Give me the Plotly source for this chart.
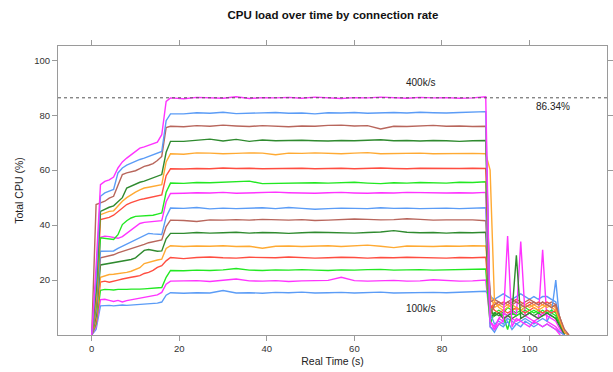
import plotly.graph_objects as go

# ---- data ----
rates = ["100k", "120k", "140k", "160k", "180k", "200k", "220k", "240k",
         "260k", "280k", "300k", "320k", "340k", "360k", "380k", "400k"]

ramp_t = list(range(0, 19))
plat_t = list(range(21, 91, 3))
tail_t = list(range(91, 110))
time_s = ramp_t + plat_t + tail_t

ramp = [
    [0, 2, 10.6, 10.7, 10.8, 10.6, 10.8, 10.9, 10.8, 10.9, 11.0, 11.1, 11.2, 11.3, 11.4, 11.6, 12.0, 14.5, 15.4],
    [0, 3, 12.9, 13.0, 12.6, 12.2, 12.6, 12.0, 12.5, 12.8, 13.2, 13.5, 13.8, 14.0, 14.2, 14.6, 15.5, 18.5, 19.6],
    [0, 4, 16.3, 16.6, 16.5, 16.4, 16.6, 16.5, 16.6, 16.7, 16.6, 16.7, 16.8, 16.9, 17.0, 17.1, 17.3, 21.0, 23.5],
    [0, 5, 19.3, 19.6, 19.2, 19.7, 20.0, 20.4, 20.8, 21.0, 21.3, 21.6, 22.4, 22.8, 23.5, 24.6, 25.2, 27.0, 28.2],
    [0, 6, 21.0, 21.5, 22.0, 22.1, 22.3, 22.4, 22.8, 23.2, 23.9, 24.5, 26.0, 26.5, 27.0, 27.3, 27.6, 31.5, 32.5],
    [0, 7, 25.5, 25.8, 26.0, 26.4, 26.8, 27.0, 27.2, 27.5, 28.1, 29.5, 30.8, 31.1, 30.8, 30.5, 30.6, 35.0, 37.0],
    [0, 8, 28.1, 28.4, 28.8, 29.2, 29.9, 30.4, 31.0, 31.5, 32.0, 32.3, 33.0, 33.6, 34.0, 34.4, 34.6, 39.5, 41.8],
    [0, 9, 30.5, 30.6, 30.7, 30.6, 31.5, 32.3, 33.2, 34.1, 34.8, 35.5, 36.2, 37.0, 36.8, 36.6, 36.6, 43.0, 46.2],
    [0, 10, 35.6, 36.0, 35.8, 35.5, 35.2, 35.8, 37.0, 38.2, 39.5, 40.6, 41.0, 41.2, 41.3, 41.4, 41.6, 48.5, 51.5],
    [0, 10, 35.4, 35.2, 34.9, 34.8, 36.5, 40.2, 41.6, 42.6, 43.2, 43.3, 43.4, 43.3, 43.6, 44.0, 44.4, 52.0, 55.3],
    [0, 12, 42.0, 42.4, 42.8, 43.6, 45.0, 46.2, 47.5, 48.2, 48.8, 49.3, 49.6, 50.0, 50.4, 50.7, 51.0, 58.0, 60.5],
    [0, 14, 43.8, 44.4, 45.0, 45.2, 47.0, 48.7, 50.0, 51.1, 52.0, 52.8, 53.5, 53.8, 54.1, 54.4, 54.7, 63.0, 66.0],
    [0, 16, 45.0, 45.8, 46.5, 47.0, 48.5, 50.0, 53.5, 54.2, 54.9, 55.6, 56.0, 56.6, 57.2, 57.8, 58.4, 66.5, 70.5],
    [0, 47.5, 48.1, 48.7, 49.8, 50.5, 54.5, 58.4, 59.0, 59.4, 59.8, 60.6, 61.4, 61.8, 62.4, 63.5, 65.0, 75.5, 76.0],
    [0, 20, 50.5, 51.7, 52.4, 53.0, 59.0, 60.8, 61.8, 62.6, 63.3, 63.9, 64.4, 65.0, 65.6, 66.2, 66.8, 78.0, 80.5],
    [0, 25, 54.7, 55.9, 56.5, 57.5, 60.8, 63.0, 64.4, 65.5, 66.8, 68.0, 68.5, 69.0, 69.5, 70.2, 72.9, 85.0, 86.3],
]

plateau = [
    [15.2, 15.4, 15.3, 16.2, 15.3, 15.4, 15.2, 15.5, 15.4, 15.6, 15.3, 15.4, 15.5, 15.3, 15.4, 15.6, 15.3, 15.4, 15.3, 15.5, 15.4, 15.6, 15.8, 15.9],
    [19.6, 19.8, 19.5, 19.9, 20.4, 19.7, 19.6, 19.8, 19.5, 19.7, 19.8, 19.9, 21.0, 19.8, 19.6, 19.7, 19.9, 19.6, 19.7, 20.1, 19.8, 19.6, 19.7, 20.0],
    [23.4, 23.6, 23.5, 23.7, 24.2, 23.6, 23.5, 23.7, 23.6, 23.8, 23.6, 23.5, 23.7, 23.6, 23.8, 23.9, 23.6, 23.7, 23.8, 23.6, 23.7, 23.9, 23.8, 24.0],
    [27.8, 28.2, 28.4, 28.1, 28.0, 28.3, 28.2, 28.1, 28.4, 28.2, 28.0, 28.1, 28.3, 28.2, 28.0, 28.2, 28.1, 28.3, 28.2, 28.1, 28.0, 28.2, 28.1, 28.3],
    [32.2, 32.4, 32.3, 32.5, 32.2, 32.3, 31.6, 32.3, 32.4, 32.2, 32.3, 32.5, 32.2, 32.4, 32.7, 32.3, 31.8, 32.4, 32.3, 32.2, 32.4, 32.3, 32.5, 32.4],
    [37.0, 37.3, 37.1, 37.2, 37.4, 37.1, 37.3, 37.2, 37.0, 37.2, 37.4, 37.3, 37.2, 37.1, 37.3, 37.5, 38.0, 37.4, 37.2, 37.3, 37.1, 37.3, 37.2, 37.4],
    [41.7, 41.3, 41.9, 41.8, 42.0, 41.8, 42.1, 41.9, 41.8, 42.0, 41.7, 41.8, 42.0, 42.2, 42.1, 41.9, 42.0, 42.3, 42.1, 41.8, 41.9, 42.0, 41.9, 41.6],
    [46.1, 46.4, 45.9, 46.2, 46.0, 46.1, 46.3, 46.0, 46.4, 46.1, 45.8, 46.0, 46.2, 46.1, 46.0, 46.3, 46.1, 46.2, 46.0, 46.1, 46.2, 46.0, 46.1, 46.3],
    [51.6, 51.8, 51.7, 51.9, 51.6, 51.7, 51.8, 52.0, 51.8, 51.7, 51.6, 51.8, 51.9, 51.7, 51.6, 51.8, 51.7, 51.9, 51.8, 51.6, 51.7, 51.8, 51.7, 51.9],
    [55.2, 55.5, 55.4, 55.6, 55.7, 56.0, 55.1, 55.2, 55.3, 55.2, 55.4, 55.3, 55.5, 55.6, 55.3, 55.1, 55.4, 55.3, 55.5, 55.4, 55.3, 55.6, 55.5, 55.8],
    [60.4, 60.6, 60.5, 60.8, 60.6, 60.7, 60.5, 60.6, 60.8, 60.7, 60.5, 60.6, 60.7, 60.5, 60.6, 60.8, 60.6, 60.5, 60.7, 60.6, 60.5, 60.6, 60.7, 60.6],
    [65.8, 66.3, 66.2, 66.0, 66.1, 66.3, 66.2, 65.6, 66.2, 66.1, 66.3, 66.2, 66.0, 66.2, 66.4, 66.0, 66.1, 66.3, 66.2, 66.0, 66.1, 66.2, 66.1, 66.0],
    [70.5, 71.0, 71.3, 70.6, 71.2, 70.5, 71.0, 70.7, 70.8, 70.9, 70.7, 70.6, 70.8, 70.7, 70.9, 71.1, 70.7, 70.8, 70.6, 70.8, 70.7, 70.5, 70.7, 70.8],
    [75.8, 76.2, 76.0, 76.4, 76.1, 75.9, 76.2, 76.0, 75.8, 76.1, 76.0, 76.3, 76.4, 76.1, 76.2, 75.0, 76.0, 75.9, 76.1, 76.3, 76.0, 76.1, 75.9, 76.0],
    [80.5, 80.9, 80.7, 81.1, 80.6, 80.8, 80.9, 81.0, 80.7, 80.8, 80.5, 80.9, 80.8, 81.0, 80.7, 80.9, 81.0, 80.8, 81.1, 80.9, 80.8, 81.0, 81.2, 81.3],
    [86.0, 86.5, 86.4, 86.2, 86.7, 86.1, 86.4, 86.3, 86.5, 86.2, 86.6, 86.3, 86.1, 86.4, 86.3, 86.6, 86.4, 86.2, 86.5, 86.3, 86.4, 86.2, 86.3, 86.7],
]

N = None
tail = [
    [14, 13, 14, 15, 14, 13, 14, 15, 14, 13, 14, 13, 14, 14, 13, 12, 5, 0, N],
    [5, 3, 6, 5, 7, 6, 5, 6, 7, 6, 5, 6, 31, 5, 4, 3, 1, 0, N],
    [4, 8, 9, 8, 10, 9, 8, 9, 10, 9, 8, 9, 8, 9, 8, 7, 3, 0, N],
    [9, 12, 11, 12, 11, 12, 13, 12, 11, 12, 11, 12, 11, 12, 11, 10, 4, 0, N],
    [15, 10, 11, 10, 11, 10, 9, 10, 11, 10, 11, 10, 11, 10, 11, 10, 6, 1, 0],
    [6, 8, 7, 8, 7, 6, 7, 8, 7, 8, 7, 8, 7, 8, 7, 6, 3, 0, N],
    [12, 13, 12, 11, 12, 13, 12, 11, 12, 13, 12, 11, 12, 11, 12, 11, 6, 1, 0],
    [8, 4, 5, 4, 6, 5, 4, 5, 6, 5, 4, 5, 6, 5, 8, 20, 3, 0, N],
    [3, 2, 6, 8, 7, 9, 7, 34, 7, 8, 7, 6, 8, 7, 6, 5, 2, 0, N],
    [10, 7, 8, 7, 2, 8, 7, 8, 9, 8, 9, 8, 9, 8, 9, 8, 4, 0, N],
    [11, 9, 8, 9, 8, 9, 10, 9, 8, 9, 10, 9, 8, 9, 8, 9, 5, 0, N],
    [60, 12, 10, 9, 10, 11, 10, 9, 10, 11, 10, 9, 10, 11, 10, 9, 5, 1, 0],
    [9, 7, 8, 6, 7, 8, 29, 6, 7, 8, 7, 6, 7, 8, 7, 6, 3, 0, N],
    [7, 11, 12, 11, 12, 11, 12, 11, 10, 11, 12, 11, 12, 11, 10, 11, 6, 2, 0],
    [3, 1, 4, 3, 5, 2, 4, 3, 5, 4, 3, 4, 3, 4, 3, 2, 1, 0, N],
    [5, 2, 4, 5, 36, 3, 6, 5, 4, 3, 5, 4, 3, 4, 3, 2, 0, N, N],
]

peak_level = 86.34
x_ticks = [0, 20, 40, 60, 80, 100]
y_ticks = [20, 40, 60, 80, 100]

palette = ["#5b9cf6", "#ff33ff", "#22e822", "#ff4d40", "#ffaa33", "#2f8a2f", "#b8665c"]

fig = go.Figure()
for i, name in enumerate(rates):
    fig.add_trace(go.Scatter(
        x=time_s, y=ramp[i] + plateau[i] + tail[i], mode="lines", name=name,
        line=dict(color=palette[i % len(palette)], width=1.4),
        connectgaps=False, showlegend=False))

fig.add_shape(type="line", xref="paper", yref="y", x0=0, x1=1, y0=peak_level, y1=peak_level,
              line=dict(color="#555555", width=1, dash="3px,3px"))

ann_font = dict(family="Liberation Sans, Arial, sans-serif", size=10, color="#222222")
fig.add_annotation(x=75.2, y=92.0, text="400k/s", showarrow=False, font=ann_font)
fig.add_annotation(x=75.2, y=9.7, text="100k/s", showarrow=False, font=ann_font)
fig.add_annotation(x=105.3, y=83.2, text=f"{peak_level:.2f}%", showarrow=False, font=ann_font)

axis_common = dict(showline=True, linecolor="#9a9a9a", linewidth=1, mirror="allticks",
                   ticks="outside", ticklen=5, tickcolor="#9a9a9a", showgrid=False,
                   zeroline=False, automargin=False, tickfont=dict(size=9.5, color="#333333"))

fig.update_layout(
    width=613, height=372,
    margin=dict(l=58, r=6, t=46, b=37),
    paper_bgcolor="white", plot_bgcolor="white",
    font=dict(family="Liberation Sans, Arial, sans-serif", color="#222222"),
    title=dict(text="<b>CPU load over time by connection rate</b>", x=0.543, xanchor="center",
               y=0.96, yanchor="middle", font=dict(size=11.5, color="#111111")),
    xaxis=dict(range=[-7.7, 117.7], tickvals=x_ticks,
               title=dict(text="Real Time (s)", font=dict(size=10.5), standoff=4), **axis_common),
    yaxis=dict(range=[0, 105.2], tickvals=y_ticks,
               title=dict(text="Total CPU (%)", font=dict(size=10.5), standoff=8), **axis_common),
)

fig.write_html("out.html", config={"displayModeBar": False},
               post_script="document.body.style.margin='0px';document.body.style.overflow='hidden';")
